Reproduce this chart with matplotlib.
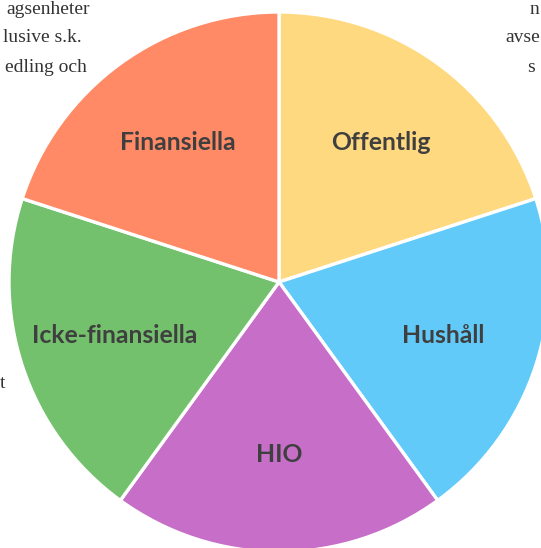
import matplotlib
matplotlib.use("Agg")
import matplotlib.pyplot as plt

# Data
categories = ["Offentlig", "Hushåll", "HIO", "Icke-finansiella", "Finansiella"]
values = [1, 1, 1, 1, 1]
colors = ["#FFD97F", "#62CAF9", "#C76FC8", "#73C16D", "#FF8A65"]

# Background document fragments visible around the chart
bg_left = ["agsenheter", "lusive s.k.", "edling och"]
bg_right = ["n", "avse", "s"]
bg_bottom_left = "t"

W, H = 541, 548
cx, cy, R = 279, 282, 270

fig = plt.figure(figsize=(W / 100, H / 100), dpi=100)
ax = fig.add_axes([0, 0, 1, 1])

wedges, texts = ax.pie(
    values,
    labels=categories,
    colors=colors,
    startangle=90,
    counterclock=False,
    radius=1.0,
    labeldistance=0.64,
    wedgeprops=dict(edgecolor="white", linewidth=2.4),
    textprops=dict(fontsize=17.8, fontweight="bold", color="#3F3F3F",
                   family=["Lato", "DejaVu Sans"]),
)
for t in texts:
    t.set_ha("center")
    t.set_va("center")

ax.set_aspect("auto")
ax.set_xlim(-cx / R, (W - cx) / R)
ax.set_ylim(-(H - cy) / R, cy / R)
ax.axis("off")


def px(x, y):
    return ((x - cx) / R, (cy - y) / R)


serif = dict(fontsize=14, color="#333333", family=["Liberation Serif", "DejaVu Serif"],
             zorder=0, va="center")
for s, (x, y) in zip(bg_left, [(90, 10), (82, 38), (87, 68)]):
    ax.text(*px(x, y), s, ha="right", **serif)
for s, (x, y) in zip(bg_right, [(530, 10), (505, 38), (527, 68)]):
    ax.text(*px(x, y), s, ha="left", **serif)
ax.text(*px(0, 383), bg_bottom_left, ha="left", **serif)

fig.savefig("out.png", dpi=100)
